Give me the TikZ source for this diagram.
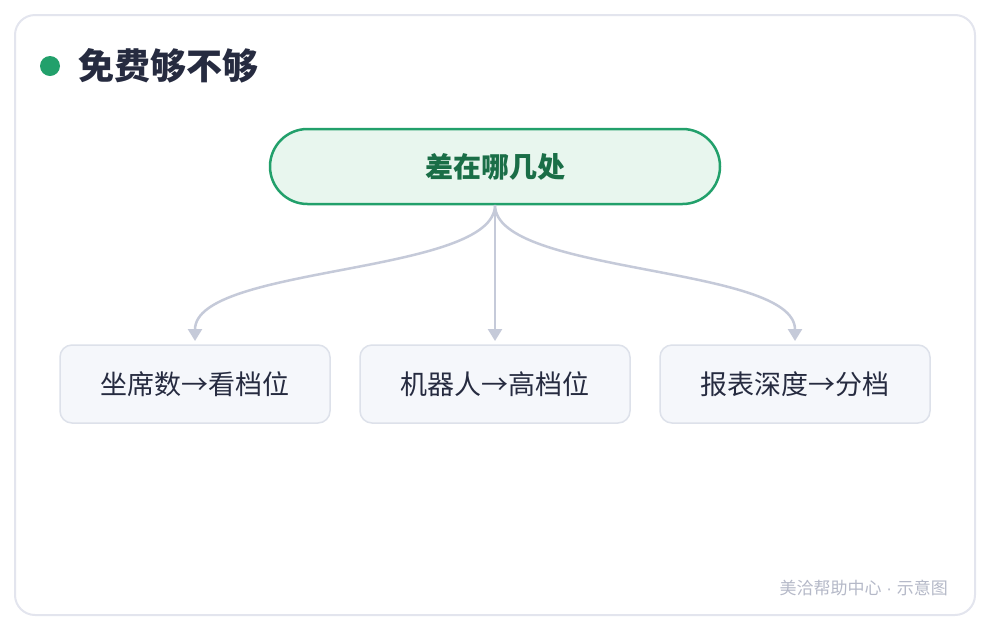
\documentclass[tikz,border=0pt]{standalone}
\usepackage{fontspec}
\newfontfamily\cjk{Noto Sans CJK SC}
\newfontfamily\latn{Liberation Sans}
\usetikzlibrary{arrows.meta,shapes.misc}
\definecolor{frame}{HTML}{E3E5EE}
\definecolor{grn}{HTML}{22A06B}
\definecolor{grnfill}{HTML}{E8F6EE}
\definecolor{grntext}{HTML}{1A6E47}
\definecolor{boxfill}{HTML}{F5F7FB}
\definecolor{boxline}{HTML}{DDE1EA}
\definecolor{conn}{HTML}{C5CAD9}
\definecolor{ink}{HTML}{262B40}
\definecolor{foot}{HTML}{B5B9C8}
\tikzset{
  leaf/.style={draw=boxline,line width=1.5pt,fill=boxfill,rounded corners=12pt,minimum width=270pt,minimum height=78pt,inner sep=0pt,font=\cjk\fontsize{27}{32}\selectfont,text=ink},
  link/.style={draw=conn,line width=2.5pt,-{Triangle[length=12pt,width=14pt]}}
}
\begin{document}
\begin{tikzpicture}[x=1pt,y=-1pt]
\useasboundingbox (0,0) rectangle (990,630);
\draw[frame,line width=2pt,fill=white,rounded corners=20pt] (15,15) rectangle (975,615);
\fill[grn] (50,66) circle (10);
\node[anchor=west,inner sep=0pt,font=\cjk\bfseries\fontsize{36}{40}\selectfont,text=ink] (title) at (78,66) {免费够不够};
\node[draw=grn,line width=2.5pt,fill=grnfill,rounded rectangle,minimum width=450pt,minimum height=75pt,inner sep=0pt,font=\cjk\bfseries\fontsize{28}{32}\selectfont,text=grntext] (top) at (495,166.5) {差在哪几处};
\node[leaf] (a) at (195,384) {坐席数→看档位};
\node[leaf] (b) at (495,384) {机器人→高档位};
\node[leaf] (c) at (795,384) {报表深度→分档};
\coordinate (s) at (495,205);
\coordinate (ea) at (195,341);
\coordinate (eb) at (495,341);
\coordinate (ec) at (795,341);
\draw[link] (s) .. controls (495,275) and (195,265) .. (ea);
\draw[link] (s) -- (eb);
\draw[link] (s) .. controls (495,275) and (795,265) .. (ec);
\node[anchor=east,inner sep=0pt,font=\cjk\fontsize{17}{20}\selectfont,text=foot] (ft) at (948,588) {美洽帮助中心{\latn\ ·\ }示意图};
\end{tikzpicture}
\end{document}
